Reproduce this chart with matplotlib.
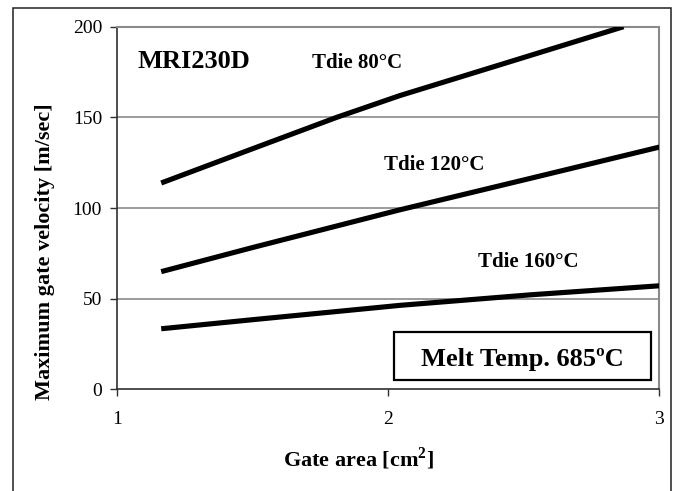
import matplotlib.pyplot as plt
from matplotlib.patches import Rectangle

plt.rcParams['font.family'] = 'Liberation Serif'
plt.rcParams['mathtext.fontset'] = 'custom'
plt.rcParams['mathtext.rm'] = 'Liberation Serif'
plt.rcParams['mathtext.bf'] = 'Liberation Serif:bold'

# gate area [cm2] vs maximum gate velocity [m/sec]
area_80 = [1.163, 1.5, 1.81, 2.043, 2.456, 2.868]
vel_80 = [113.8, 132.7, 150, 162, 181, 200]
area_120 = [1.163, 1.5, 2.043, 2.523, 3.0]
vel_120 = [64.9, 78.2, 99, 116.3, 133.6]
area_160 = [1.163, 1.5, 2.043, 2.523, 3.0]
vel_160 = [33.4, 38.4, 46.3, 52.1, 57.1]

xticks = [1, 2, 3]
yticks = [0, 50, 100, 150, 200]

fig = plt.figure(figsize=(6.76, 4.91), dpi=100)
ax = fig.add_axes([0.1731, 0.2071, 0.8022, 0.7385])

# gridlines
for y in yticks[1:-1]:
    ax.axhline(y, color='#808080', lw=1.1, zorder=1)

for a, v in [(area_80, vel_80), (area_120, vel_120), (area_160, vel_160)]:
    ax.plot(a, v, color='black', lw=3.7, solid_capstyle='butt', solid_joinstyle='round', zorder=3)

ax.set_xlim(1, 3)
ax.set_ylim(0, 200)
ax.set_xticks(xticks)
ax.set_yticks(yticks)
ax.tick_params(direction='out', length=4.8, width=1, labelsize=14, color='#303030')
ax.tick_params(axis='x', pad=11)
ax.tick_params(axis='y', pad=6)
for s in ['top', 'right']:
    ax.spines[s].set_color('#8a8a8a')
    ax.spines[s].set_linewidth(1.5)
for s in ['left', 'bottom']:
    ax.spines[s].set_color('#303030')
    ax.spines[s].set_linewidth(1.2)

ax.set_xlabel('Gate area [cm$^{\\mathbf{2}}$]', fontsize=16, fontweight='bold', va='baseline')
ax.xaxis.set_label_coords(0.445, -0.2135)
ax.set_ylabel('Maximum gate velocity [m/sec]', fontsize=16, fontweight='bold', va='center')
ax.yaxis.set_label_coords(-0.133, 0.38)

ax.text(1.077, 177.1, 'MRI230D', fontsize=19, fontweight='bold', va='baseline')
ax.text(1.886, 177.1, 'Tdie 80°C', fontsize=15, fontweight='bold', va='baseline', ha='center')
ax.text(2.169, 120.7, 'Tdie 120°C', fontsize=15, fontweight='bold', va='baseline', ha='center')
ax.text(2.518, 67.6, 'Tdie 160°C', fontsize=15, fontweight='bold', va='baseline', ha='center')

# melt temperature box
ax.add_patch(Rectangle((0.511, 0.0257), 0.474, 0.1333, transform=ax.transAxes,
                       fc='white', ec='black', lw=1.6, zorder=4))
ax.text(0.747, 0.065, 'Melt Temp. 685ºC', transform=ax.transAxes, fontsize=19,
        fontweight='bold', va='baseline', ha='center', zorder=5)

# outer frame
fig.patches.append(Rectangle((0.0188, -0.05), 0.9738, 1.033, transform=fig.transFigure,
                             fill=False, ec='#202020', lw=1.1))

fig.savefig('out.png', dpi=100)
